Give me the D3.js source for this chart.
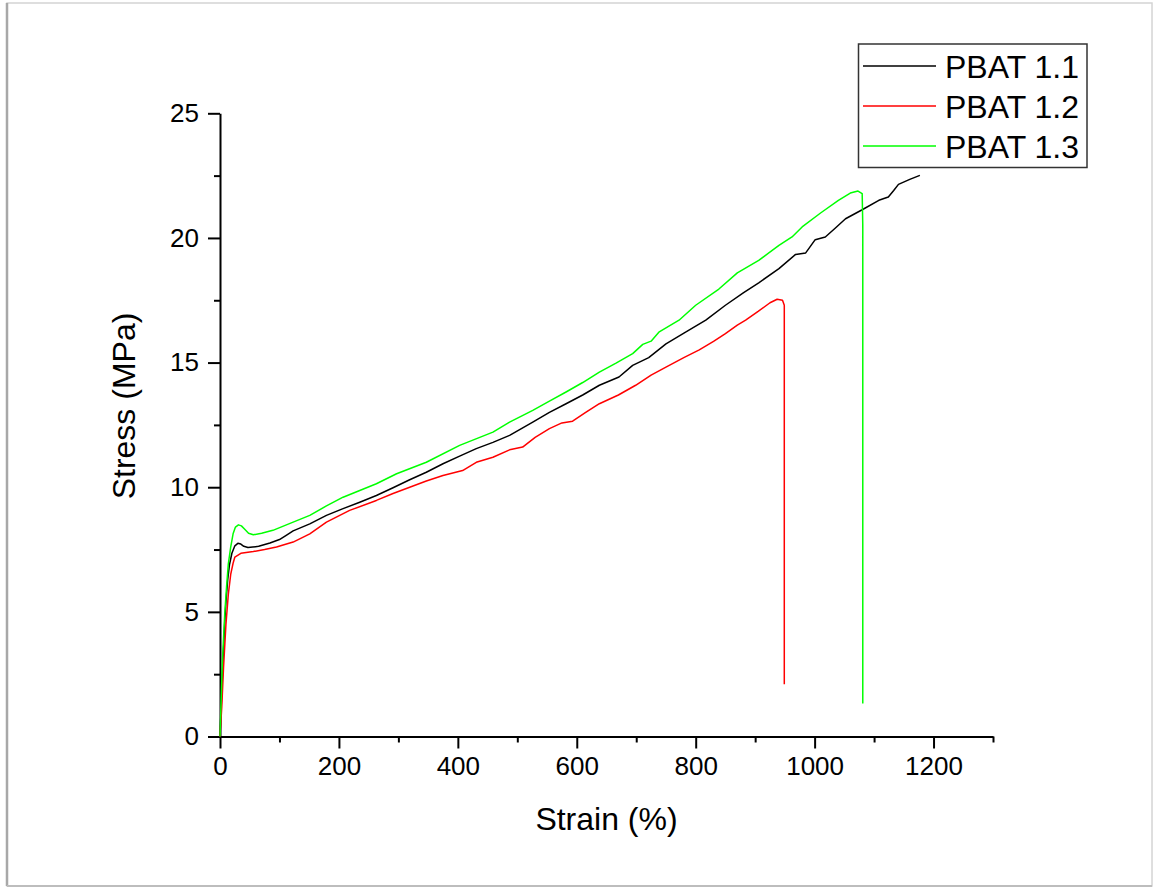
<!DOCTYPE html>
<html><head><meta charset="utf-8">
<script src="https://cdn.jsdelivr.net/npm/d3@7"></script>
<style>html,body{margin:0;padding:0;background:#fff;}svg{display:block;}</style>
</head><body>
<svg id="chart" width="1156" height="888"></svg>
<script>
const seriesNames = ["PBAT 1.1", "PBAT 1.2", "PBAT 1.3"];
const seriesColors = ["#000000", "#ff0000", "#00ff00"];
const xTicks = [0, 200, 400, 600, 800, 1000, 1200];
const yTicks = [0, 5, 10, 15, 20, 25];

const pbat11 = [[0,0],[2,1.2],[5,3.0],[8,4.6],[10,5.4],[13,6.3],[16,6.9],[20,7.35],[25,7.65],[30,7.75],[35,7.72],[40,7.63],[47,7.58],[55,7.6],[65,7.63],[84,7.76],[100,7.9],[112,8.08],[123,8.25],[151,8.53],[179,8.87],[207,9.14],[235,9.4],[263,9.67],[291,9.98],[319,10.3],[347,10.6],[375,10.94],[403,11.25],[431,11.55],[459,11.8],[487,12.08],[526,12.61],[554,13.0],[582,13.35],[610,13.7],[638,14.09],[671,14.42],[694,14.89],[721,15.2],[750,15.75],[783,16.22],[817,16.7],[850,17.3],[880,17.8],[906,18.2],[940,18.77],[968,19.34],[985,19.4],[1001,19.93],[1018,20.04],[1035,20.4],[1052,20.77],[1080,21.13],[1108,21.51],[1124,21.64],[1133,21.9],[1141,22.15],[1160,22.35],[1177,22.51]];
const pbat12 = [[0,0],[3,1.2],[6,2.8],[10,4.5],[14,5.7],[18,6.5],[22,6.95],[25,7.2],[35,7.35],[56,7.42],[75,7.5],[95,7.6],[123,7.8],[151,8.13],[179,8.6],[218,9.07],[263,9.47],[291,9.75],[319,10.0],[347,10.25],[375,10.47],[408,10.67],[431,11.0],[459,11.2],[487,11.5],[509,11.61],[530,12.0],[554,12.35],[575,12.58],[593,12.65],[615,13.0],[638,13.35],[670,13.7],[699,14.09],[725,14.5],[750,14.82],[780,15.2],[806,15.51],[830,15.85],[850,16.16],[870,16.5],[884,16.7],[905,17.05],[925,17.4],[937,17.54],[946,17.5],[949,17.3],[949,2.1]];
const pbat13 = [[0,0],[2,1.5],[4,3.0],[8,4.93],[11,6.0],[14,6.93],[18,7.6],[22,8.13],[26,8.4],[31,8.49],[36,8.45],[42,8.3],[48,8.15],[56,8.09],[70,8.15],[89,8.27],[123,8.6],[151,8.87],[179,9.25],[207,9.6],[235,9.87],[263,10.14],[297,10.54],[347,11.0],[403,11.68],[459,12.21],[487,12.61],[526,13.08],[554,13.45],[582,13.82],[610,14.2],[638,14.62],[666,14.98],[694,15.36],[711,15.73],[725,15.86],[738,16.22],[772,16.7],[800,17.3],[839,17.95],[870,18.6],[906,19.1],[940,19.7],[962,20.04],[979,20.44],[1010,21.0],[1040,21.51],[1060,21.8],[1073,21.88],[1080,21.78],[1081,20.5],[1081,1.32]];
const seriesData = [pbat11, pbat12, pbat13];

const svg = d3.select("#chart");
const font = "'Liberation Sans', Arial, sans-serif";

// page frame
svg.append("rect").attr("x", 7).attr("y", 3).attr("width", 1145).attr("height", 883)
  .attr("fill", "#fff").attr("stroke", "#d4d4d4").attr("stroke-width", 1.5);
svg.append("line").attr("x1", 7).attr("x2", 7).attr("y1", 3).attr("y2", 886)
  .attr("stroke", "#a8a8a8").attr("stroke-width", 2.5);
svg.append("line").attr("x1", 7).attr("x2", 1152).attr("y1", 886).attr("y2", 886)
  .attr("stroke", "#bdbdbd").attr("stroke-width", 2);

const x = d3.scaleLinear().domain([0, 1300]).range([220, 993]);
const y = d3.scaleLinear().domain([0, 25]).range([736.5, 113.3]);

const xMinor = d3.range(100, 1300, 200);
const yMinor = d3.range(2.5, 25, 5);

svg.append("g").attr("transform", "translate(0,736.5)")
  .call(d3.axisBottom(x).tickValues(xTicks).tickSize(12).tickSizeOuter(0).tickPadding(8).tickFormat(d3.format("d")));
svg.append("g").attr("transform", "translate(0,736.5)")
  .call(d3.axisBottom(x).tickValues(xMinor.concat([1300])).tickSize(6).tickSizeOuter(0).tickFormat(""))
  .select(".domain").remove();
svg.append("g").attr("transform", "translate(220,0)")
  .call(d3.axisLeft(y).tickValues(yTicks).tickSize(12).tickSizeOuter(0).tickPadding(9));
svg.append("g").attr("transform", "translate(220,0)")
  .call(d3.axisLeft(y).tickValues(yMinor).tickSize(6).tickSizeOuter(0).tickFormat(""))
  .select(".domain").remove();

svg.selectAll(".domain, .tick line").attr("stroke", "#000").attr("stroke-width", 2);
svg.selectAll(".tick text").attr("font-family", font).attr("font-size", 26).attr("fill", "#000");

const line = d3.line().x(d => x(d[0])).y(d => y(d[1]));
seriesData.forEach((data, i) => {
  svg.append("path").datum(data).attr("d", line)
    .attr("fill", "none").attr("stroke", seriesColors[i]).attr("stroke-width", 1.5)
    .attr("stroke-linejoin", "round");
});

svg.append("text").attr("x", 606.5).attr("y", 830).attr("text-anchor", "middle")
  .attr("font-family", font).attr("font-size", 32).text("Strain (%)");
svg.append("text").attr("transform", "translate(135,406) rotate(-90)").attr("text-anchor", "middle")
  .attr("font-family", font).attr("font-size", 32).text("Stress (MPa)");

const lg = svg.append("g");
lg.append("rect").attr("x", 858.5).attr("y", 44).attr("width", 228.5).attr("height", 123.5)
  .attr("fill", "#fff").attr("stroke", "#333").attr("stroke-width", 1.5);
seriesNames.forEach((name, i) => {
  const ly = 66 + i * 40;
  lg.append("line").attr("x1", 863).attr("x2", 936).attr("y1", ly).attr("y2", ly)
    .attr("stroke", seriesColors[i]).attr("stroke-width", 1.5);
  lg.append("text").attr("x", 945).attr("y", ly + 11.5).attr("font-family", font)
    .attr("font-size", 32).attr("fill", "#000").text(name);
});
</script>
</body></html>
